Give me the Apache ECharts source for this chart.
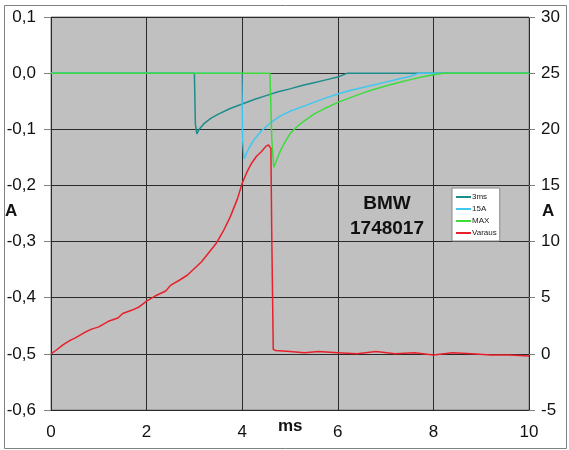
<!DOCTYPE html>
<html>
<head>
<meta charset="utf-8">
<script src="https://cdn.jsdelivr.net/npm/echarts@6/dist/echarts.min.js"></script>
<style>
html,body{margin:0;padding:0;background:#fff;}
#c{width:569px;height:450px;}
</style>
</head>
<body>
<div id="c"></div>
<script>
// ---- data ----
var xTicksMs = [0, 2, 4, 6, 8, 10];
var x3ms = [0, 1, 2, 3.0, 3.02, 3.05, 3.1, 3.2, 3.35, 3.5, 3.75, 4.0, 4.25, 4.5, 4.75, 5.0, 5.25, 5.5, 5.75, 6.0, 6.2, 7, 8, 9, 10];
var y3ms = [0, 0, 0, 0, -0.09, -0.108, -0.1, -0.09, -0.08, -0.073, -0.063, -0.055, -0.047, -0.04, -0.033, -0.028, -0.022, -0.017, -0.012, -0.007, 0, 0, 0, 0, 0];
var x15A = [0, 2, 3.99, 4.01, 4.04, 4.08, 4.15, 4.25, 4.4, 4.6, 4.8, 5.0, 5.25, 5.5, 5.75, 6.0, 6.25, 6.5, 6.75, 7.0, 7.25, 7.5, 7.7, 10];
var y15A = [0, 0, 0, -0.12, -0.153, -0.145, -0.132, -0.118, -0.103, -0.088, -0.076, -0.068, -0.06, -0.052, -0.044, -0.037, -0.031, -0.026, -0.021, -0.016, -0.011, -0.006, 0, 0];
var xMAX = [0, 4.58, 4.62, 4.66, 4.72, 4.8, 4.9, 5.0, 5.15, 5.3, 5.5, 5.75, 6.0, 6.25, 6.5, 6.75, 7.0, 7.25, 7.5, 7.75, 8.0, 8.2, 10];
var yMAX = [0, 0, -0.12, -0.168, -0.155, -0.138, -0.122, -0.108, -0.095, -0.085, -0.073, -0.062, -0.052, -0.044, -0.036, -0.029, -0.023, -0.017, -0.012, -0.007, -0.003, 0, 0];
var xVaraus = [0, 0.1, 0.25, 0.4, 0.5, 0.7, 0.85, 1.0, 1.2, 1.4, 1.5, 1.7, 1.85, 2.0, 2.2, 2.4, 2.5, 2.7, 2.85, 3.0, 3.15, 3.3, 3.45, 3.6, 3.75, 3.9, 4.0, 4.1, 4.2, 4.3, 4.4, 4.5, 4.55, 4.6, 4.62, 4.65, 4.7, 5.0, 5.3, 5.6, 6.0, 6.4, 6.8, 7.2, 7.6, 8.0, 8.4, 8.8, 9.2, 9.6, 10];
var yVaraus = [0, 0.3, 0.8, 1.2, 1.4, 1.9, 2.2, 2.4, 2.9, 3.2, 3.6, 3.9, 4.2, 4.7, 5.2, 5.6, 6.1, 6.6, 7.0, 7.6, 8.2, 9.0, 9.8, 10.9, 12.2, 13.8, 15.2, 16.2, 17.0, 17.6, 18.0, 18.5, 18.6, 18.3, 10, 0.4, 0.3, 0.2, 0.1, 0.2, 0.1, 0.0, 0.2, 0.0, 0.1, -0.1, 0.1, 0.0, -0.1, -0.1, -0.2];
var seriesNames = ['3ms', '15A', 'MAX', 'Varaus'];
var titleLines = ['BMW', '1748017'];

function zip(xs, ys) { return xs.map(function (x, i) { return [x, ys[i]]; }); }

var FONT = 'Liberation Sans, Arial, sans-serif';
var chart = echarts.init(document.getElementById('c'), null, {renderer: 'canvas'});

function lineSeries(name, data, color, yIdx) {
  return {
    name: name, type: 'line', data: data, yAxisIndex: yIdx,
    symbol: 'none', smooth: false, animation: false,
    lineStyle: {color: color, width: 1.5}, itemStyle: {color: color}
  };
}

chart.setOption({
  backgroundColor: '#fff',
  animation: false,
  grid: {left: 51, right: 40, top: 17, bottom: 40, show: true, backgroundColor: '#c0c0c0', borderColor: '#808080', borderWidth: 1},
  legend: {
    orient: 'vertical', left: 452, top: 188,
    data: seriesNames,
    icon: 'rect',
    backgroundColor: '#fff', borderColor: '#888', borderWidth: 1,
    padding: [4, 3, 3, 4], itemGap: 2, itemWidth: 15, itemHeight: 2,
    textStyle: {fontSize: 8, fontFamily: FONT, color: '#222', padding: [0, 0, 0, -4], lineHeight: 10}
  },
  xAxis: {
    type: 'value', min: 0, max: 10, interval: 2,
    axisLine: {show: false},
    axisTick: {show: false},
    splitLine: {show: true, lineStyle: {color: '#2a2a2a', width: 1}},
    axisLabel: {fontSize: 17, fontFamily: FONT, color: '#111', margin: 14,
      formatter: function (v) { return xTicksMs.indexOf(v) >= 0 ? String(v) : ''; }}
  },
  yAxis: [{
    type: 'value', min: -0.6, max: 0.1, interval: 0.1, position: 'left',
    axisLine: {show: false},
    axisTick: {show: true, length: 7, lineStyle: {color: '#808080'}},
    splitLine: {show: true, lineStyle: {color: '#2a2a2a', width: 1}},
    axisLabel: {fontSize: 17, fontFamily: FONT, color: '#111', margin: 15,
      formatter: function (v) { return v.toFixed(1).replace('.', ','); }}
  }, {
    type: 'value', min: -5, max: 30, interval: 5, position: 'right',
    axisLine: {show: false},
    axisTick: {show: true, length: 6, lineStyle: {color: '#808080'}},
    splitLine: {show: false},
    axisLabel: {fontSize: 17, fontFamily: FONT, color: '#111', margin: 12}
  }],
  series: [
    lineSeries(seriesNames[0], zip(x3ms, y3ms), '#1e8c8c', 0),
    lineSeries(seriesNames[1], zip(x15A, y15A), '#3cc8f0', 0),
    lineSeries(seriesNames[2], zip(xMAX, yMAX), '#3ddc3d', 0),
    lineSeries(seriesNames[3], zip(xVaraus, yVaraus), '#e8202a', 1)
  ],
  graphic: [
    {type: 'rect', left: 2, top: 3, z: -1, silent: true,
      shape: {width: 562, height: 443}, style: {fill: 'none', stroke: '#808080', lineWidth: 1}},
    {type: 'text', left: 5, top: 203, style: {text: 'A', font: 'bold 17px ' + FONT, fill: '#111'}},
    {type: 'text', left: 542, top: 203, style: {text: 'A', font: 'bold 17px ' + FONT, fill: '#111'}},
    {type: 'text', left: 278, top: 418, style: {text: 'ms', font: 'bold 17px ' + FONT, fill: '#111'}},
    {type: 'text', x: 387, y: 191, style: {text: titleLines.join('\n'), font: 'bold 19px ' + FONT, fill: '#111', align: 'center', lineHeight: 25}}
  ]
});
</script>
</body>
</html>
